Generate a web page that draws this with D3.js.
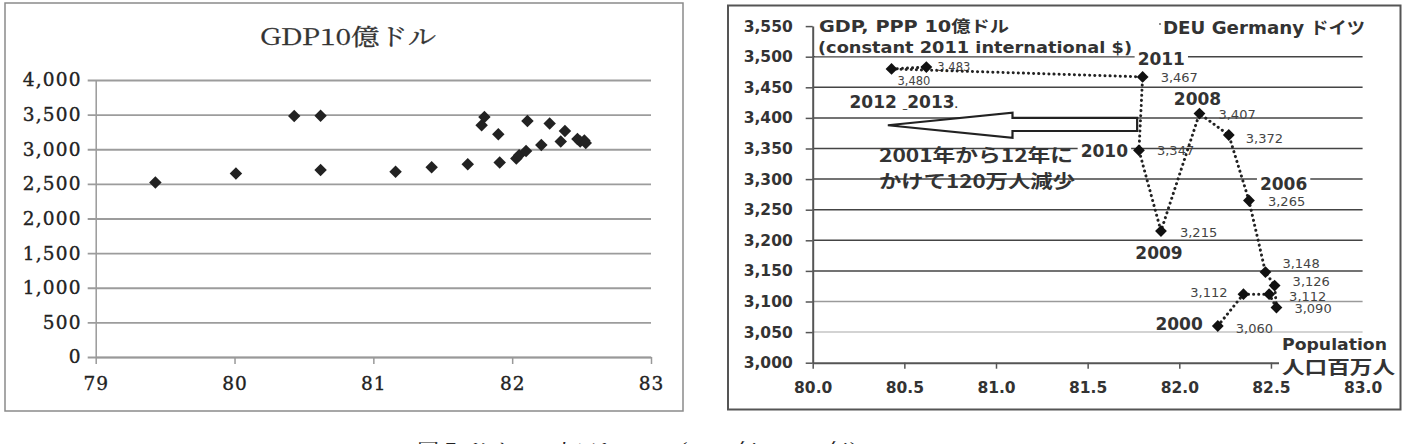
<!DOCTYPE html>
<html>
<head>
<meta charset="utf-8">
<script src="https://cdn.jsdelivr.net/npm/d3@7"></script>
<style>
  html, body { margin: 0; padding: 0; background: #fff; }
  svg { display: block; }
</style>
</head>
<body>
<div id="chart"></div>
<script>
// left panel: 1990-2013, population (millions) vs GDP (billion $)
const leftPop = [79.43, 80.01, 80.62, 81.16, 81.42, 81.68, 81.91, 82.03, 82.05, 82.10,
  82.21, 82.35, 82.49, 82.53, 82.52, 82.47, 82.38, 82.27, 82.11, 81.90, 81.78, 81.80, 80.43, 80.62];
const leftGdp = [2520, 2650, 2700, 2675, 2740, 2785, 2810, 2865, 2915, 2975,
  3060, 3112, 3112, 3090, 3126, 3148, 3265, 3372, 3407, 3215, 3347, 3467, 3480, 3483];
const leftXTicks = [79, 80, 81, 82, 83];
const leftYTicks = [0, 500, 1000, 1500, 2000, 2500, 3000, 3500, 4000];

// right panel: 2000-2013
const years = [2000, 2001, 2002, 2003, 2004, 2005, 2006, 2007, 2008, 2009, 2010, 2011, 2012, 2013];
const rightPop = [82.21, 82.35, 82.49, 82.53, 82.52, 82.47, 82.38, 82.27, 82.11, 81.90, 81.78, 81.80, 80.43, 80.62];
const rightGdp = [3060, 3112, 3112, 3090, 3126, 3148, 3265, 3372, 3407, 3215, 3347, 3467, 3480, 3483];
const rightXTicks = [80.0, 80.5, 81.0, 81.5, 82.0, 82.5, 83.0];
const rightYTicks = [3000, 3050, 3100, 3150, 3200, 3250, 3300, 3350, 3400, 3450, 3500, 3550];
const labeledYears = [2000, 2006, 2008, 2009, 2010, 2011];

// where each value / year label sits relative to its point (px)
const valueOffsets = [[18, 2, 'start'], [-16, -2, 'end'], [20, 2, 'start'], [18, 1, 'start'],
  [18, -4, 'start'], [17, -9, 'start'], [19, 1, 'start'], [17, 3, 'start'], [19, 1, 'start'],
  [19, 1, 'start'], [18, 0, 'start'], [18, 1, 'start'], [6, 12, 'start'], [11, 0, 'start']];
const yearOffsets = {
  2000: [-15, -2, 'end', false], 2006: [11, -16, 'start', true], 2008: [-2, -15, 'middle', false],
  2009: [-2, 22, 'middle', false], 2010: [-11, 1, 'end', true], 2011: [-5, -18, 'start', true]
};

const W = 1413, H = 444;
const sans = "'DejaVu Sans', 'Noto Sans CJK JP', sans-serif";
const jp = "'Noto Sans CJK JP', 'DejaVu Sans', sans-serif";
const serif = "'DejaVu Serif', 'Noto Serif CJK JP', serif";
const mincho = "'Noto Serif CJK JP', 'DejaVu Serif', serif";
const fmt = d3.format(',');

const svg = d3.select('#chart').append('svg').attr('width', W).attr('height', H);
svg.append('rect').attr('width', W).attr('height', H).attr('fill', '#fff');

// ---------- left chart ----------
const lx = d3.scaleLinear().domain([79, 83]).range([95.7, 651]);
const ly = d3.scaleLinear().domain([0, 4000]).range([357, 80]);

svg.append('rect')
  .attr('x', 5).attr('y', 3).attr('width', 678).attr('height', 408)
  .attr('fill', 'none').attr('stroke', '#8a8a8a').attr('stroke-width', 1.5);

svg.append('text')
  .attr('x', 348).attr('y', 37).attr('dy', '0.35em')
  .attr('text-anchor', 'middle')
  .style('font-family', mincho).style('font-size', '23px').attr('fill', '#333')
  .attr('stroke', '#333').attr('stroke-width', 0.3)
  .attr('textLength', 176).attr('lengthAdjust', 'spacingAndGlyphs')
  .text('GDP10億ドル');

const left = svg.append('g');

left.append('g')
  .attr('transform', `translate(${lx(79)},0)`)
  .call(d3.axisLeft(ly).tickValues(leftYTicks).tickSize(-(lx(83) - lx(79))).tickSizeOuter(0).tickPadding(14).tickFormat(fmt))
  .call(g => g.select('.domain').attr('stroke', '#999').attr('stroke-width', 1.5))
  .call(g => g.selectAll('.tick line').attr('stroke', '#9c9c9c').attr('stroke-width', 1.8).attr('x1', -8))
  .call(g => g.selectAll('.tick text')
    .style('font-family', serif).style('font-size', '18.5px').attr('fill', '#222')
    .attr('stroke', '#222').attr('stroke-width', 0.35).attr('letter-spacing', '1.2px'));

left.append('g')
  .attr('transform', `translate(0,${ly(0)})`)
  .call(d3.axisBottom(lx).tickValues(leftXTicks).tickSize(7).tickSizeOuter(0).tickPadding(13).tickFormat(d3.format('d')))
  .call(g => g.select('.domain').attr('stroke', '#999').attr('stroke-width', 1.5))
  .call(g => g.selectAll('.tick line').attr('stroke', '#999').attr('stroke-width', 1.5))
  .call(g => g.selectAll('.tick text')
    .style('font-family', serif).style('font-size', '18.5px').attr('fill', '#222')
    .attr('stroke', '#222').attr('stroke-width', 0.35).attr('letter-spacing', '1px'));

const diamondL = d3.symbol().type(d3.symbolSquare).size(78);
left.append('g').selectAll('path')
  .data(leftPop.map((p, i) => ({ p, g: leftGdp[i] })))
  .join('path')
  .attr('d', diamondL)
  .attr('transform', d => `translate(${lx(d.p)},${ly(d.g)}) rotate(45)`)
  .attr('fill', '#222');

// ---------- right chart ----------
const rx = d3.scaleLinear().domain([80, 83]).range([812.7, 1362.6]);
const ry = d3.scaleLinear().domain([3000, 3550]).range([362.7, 26.1]);

svg.append('rect')
  .attr('x', 728).attr('y', 5.5).attr('width', 672.5).attr('height', 404)
  .attr('fill', 'none').attr('stroke', '#555').attr('stroke-width', 2);

const right = svg.append('g');

// gridlines (none drawn at the top value, only its tick)
right.append('g').selectAll('line')
  .data(rightYTicks.filter(v => v > 3000 && v < 3550))
  .join('line')
  .attr('x1', rx(80)).attr('x2', rx(83))
  .attr('y1', d => ry(d)).attr('y2', d => ry(d))
  .attr('stroke', d => d === 3050 ? '#c4c4c4' : d === 3100 ? '#9a9a9a' : '#444')
  .attr('stroke-width', 1.5);

right.append('g')
  .attr('transform', `translate(${rx(80)},0)`)
  .call(d3.axisLeft(ry).tickValues(rightYTicks).tickSize(7).tickSizeOuter(0).tickPadding(13).tickFormat(fmt))
  .call(g => g.select('.domain').attr('stroke', '#555').attr('stroke-width', 2))
  .call(g => g.selectAll('.tick line').attr('stroke', '#555').attr('stroke-width', 1.5))
  .call(g => g.selectAll('.tick text')
    .style('font-family', sans).style('font-size', '15.5px').style('font-weight', 'bold').attr('fill', '#333'));

right.append('g')
  .attr('transform', `translate(0,${ry(3000)})`)
  .call(d3.axisBottom(rx).tickValues(rightXTicks).tickSize(6).tickSizeOuter(0).tickPadding(13).tickFormat(d3.format('.1f')))
  .call(g => g.select('.domain').attr('stroke', '#555').attr('stroke-width', 2))
  .call(g => g.selectAll('.tick line').attr('stroke', '#555').attr('stroke-width', 1.5))
  .call(g => g.selectAll('.tick text')
    .style('font-family', sans).style('font-size', '15.5px').style('font-weight', 'bold').attr('fill', '#333'));

// text helper, optionally with a white box behind it
function label(g, x, y, str, opts) {
  const t = g.append('text')
    .attr('x', x).attr('y', y).attr('dy', '0.35em')
    .attr('text-anchor', opts.anchor || 'start')
    .style('font-family', opts.font || sans)
    .style('font-size', opts.size + 'px')
    .style('font-weight', opts.bold ? 'bold' : 'normal')
    .attr('fill', opts.color || '#222')
    .text(str);
  if (opts.len) t.attr('textLength', opts.len).attr('lengthAdjust', 'spacingAndGlyphs');
  if (opts.bg) {
    const b = t.node().getBBox();
    g.insert('rect', () => t.node())
      .attr('x', b.x - 3).attr('y', b.y + 1).attr('width', b.width + 6).attr('height', b.height - 2)
      .attr('fill', '#fff');
  }
  return t;
}

const notes = right.append('g');
label(notes, 819, 26, 'GDP, PPP 10億ドル', { size: 16, bold: true, len: 190, bg: true, color: '#333' });
label(notes, 818, 48, '(constant 2011 international $)', { size: 15, bold: true, len: 314, bg: true, color: '#333' });
label(notes, 1163, 28, 'DEU Germany ドイツ', { size: 17, bold: true, len: 202, bg: true, color: '#333' });
notes.append('circle').attr('cx', 1160).attr('cy', 24).attr('r', 1).attr('fill', '#666');
label(notes, 1282, 344, 'Population', { size: 16, bold: true, len: 105, bg: true, color: '#333' });
label(notes, 1282, 368, '人口百万人', { font: jp, size: 18, bold: true, len: 113, bg: true, color: '#333' });

// hollow arrow, drawn in data units
const arrowPts = [[80.41, 3388], [81.09, 3408.5], [81.09, 3400], [81.77, 3400],
  [81.77, 3378.6], [81.09, 3378.6], [81.09, 3367.6]];
right.append('path')
  .attr('d', d3.line().x(d => rx(d[0])).y(d => ry(d[1]))(arrowPts) + 'Z')
  .attr('fill', '#fff').attr('stroke', '#222').attr('stroke-width', 2.2)
  .attr('stroke-linejoin', 'miter');

label(notes, 879, 156, '2001年から12年に', { font: jp, size: 18, bold: true, len: 194, color: '#333' });
label(notes, 879, 182, 'かけて120万人減少', { font: jp, size: 18, bold: true, len: 196, color: '#333' });

const pts = years.map((y, i) => ({ year: y, p: rightPop[i], g: rightGdp[i], off: valueOffsets[i] }));

right.append('path')
  .datum(pts)
  .attr('d', d3.line().x(d => rx(d.p)).y(d => ry(d.g)))
  .attr('fill', 'none').attr('stroke', '#222').attr('stroke-width', 3)
  .attr('stroke-linecap', 'round').attr('stroke-dasharray', '0.1 5');

const diamondR = d3.symbol().type(d3.symbolSquare).size(70);
right.append('g').selectAll('path')
  .data(pts)
  .join('path')
  .attr('d', diamondR)
  .attr('transform', d => `translate(${rx(d.p)},${ry(d.g)}) rotate(45)`)
  .attr('fill', '#111');

pts.forEach(d => {
  label(notes, rx(d.p) + d.off[0], ry(d.g) + d.off[1], fmt(d.g),
    { size: d.year >= 2012 ? 11.5 : 13, anchor: d.off[2], color: '#444' });
});

pts.filter(d => labeledYears.includes(d.year)).forEach(d => {
  const o = yearOffsets[d.year];
  label(notes, rx(d.p) + o[0], ry(d.g) + o[1], String(d.year),
    { size: 17, bold: true, anchor: o[2], bg: o[3], color: '#333' });
});

// 2012 and 2013 share one label
const p12 = pts.find(d => d.year === 2012);
const t1213 = label(notes, rx(p12.p) - 42, ry(p12.g) + 33, '', { size: 17, bold: true, color: '#333' });
t1213.append('tspan').text('2012 ');
t1213.append('tspan').style('font-size', '9px').text('_');
t1213.append('tspan').text('2013');
t1213.append('tspan').style('font-size', '9px').text('.');

// caption (mostly cropped in the source)
svg.append('text')
  .attr('x', 417).attr('y', 457)
  .style('font-family', mincho).style('font-size', '18px').attr('fill', '#222')
  .attr('textLength', 454).attr('lengthAdjust', 'spacingAndGlyphs')
  .text('図５ ドイツの人口とGDP（1990年～2013年）');
</script>
</body>
</html>
